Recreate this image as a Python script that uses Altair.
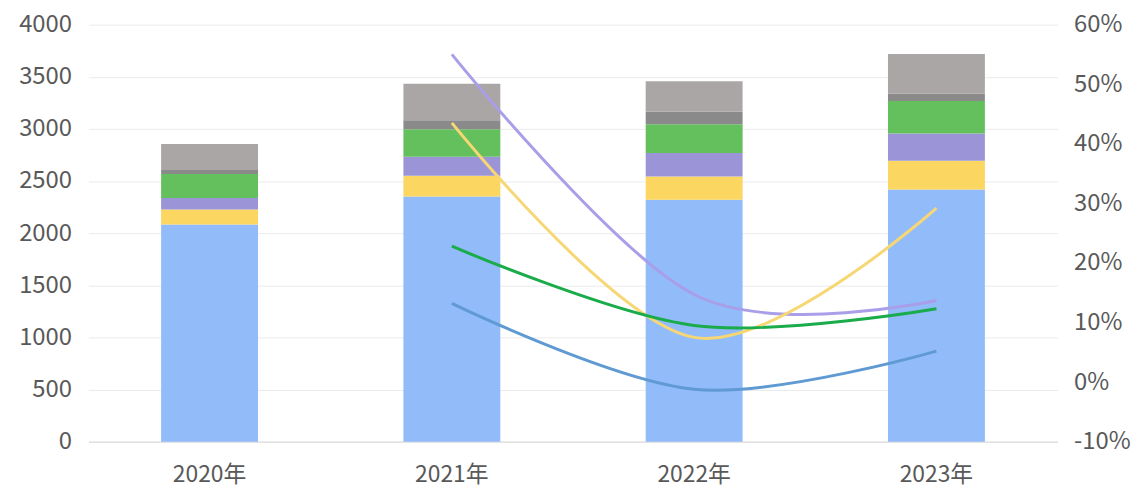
import altair as alt
import pandas as pd

years = ["2020年", "2021年", "2022年", "2023年"]

series_names = ["s1", "s2", "s3", "s4", "s5", "s6"]
seg_blue = [2083, 2352, 2321, 2419]
seg_yellow = [143, 197, 222, 276]
seg_purple = [110, 184, 226, 260]
seg_green = [232, 264, 276, 311]
seg_dark = [38, 86, 120, 70]
seg_light = [248, 349, 292, 381]
bar_colors = ["#92bbfa", "#fbd660", "#9b95d8", "#63c05c", "#8a8a8a", "#aaa6a6"]

line_years = ["2021年", "2022年", "2023年"]
line_purple = [0.55, 0.147, 0.137]
line_yellow = [0.435, 0.075, 0.292]
line_green = [0.228, 0.095, 0.123]
line_blue = [0.132, -0.012, 0.052]
line_colors = ["#a99ee8", "#f6d774", "#1aab4a", "#5f9ad3"]

left_ticks = [0, 500, 1000, 1500, 2000, 2500, 3000, 3500, 4000]
right_ticks = [-0.1, 0, 0.1, 0.2, 0.3, 0.4, 0.5, 0.6]

FONT = "Noto Sans CJK SC"
LABEL = "#595959"

rows = []
for i, (name, vals) in enumerate(zip(series_names, [seg_blue, seg_yellow, seg_purple, seg_green, seg_dark, seg_light])):
    for y, v in zip(years, vals):
        rows.append({"year": y, "series": name, "value": v, "ord": i})
bar_df = pd.DataFrame(rows)

x_enc = alt.X(
    "year:N", sort=years,
    scale=alt.Scale(domain=years, paddingInner=0.6, paddingOuter=0.3),
    axis=alt.Axis(title=None, labelAngle=0, labelFontSize=23, labelColor=LABEL, labelFont=FONT,
                  domainColor="#d9d9d9", domainWidth=1, ticks=False, labelPadding=22, grid=False),
)

bars = alt.Chart(bar_df).mark_bar().encode(
    x=x_enc,
    y=alt.Y("value:Q", stack="zero", scale=alt.Scale(domain=[0, 4000], nice=False),
            axis=alt.Axis(title=None, values=left_ticks, format="d", grid=True, gridColor="#ebebeb", domain=False,
                          ticks=False, labelPadding=17, labelFontSize=24, labelColor=LABEL, labelFont=FONT)),
    color=alt.Color("series:N", scale=alt.Scale(domain=series_names, range=bar_colors), legend=None),
    order=alt.Order("ord:Q"),
)

line_layers = []
for vals, col in zip([line_purple, line_yellow, line_green, line_blue], line_colors):
    df = pd.DataFrame({"year": line_years, "g": vals})
    line_layers.append(
        alt.Chart(df).mark_line(color=col, strokeWidth=3, interpolate="cardinal").encode(
            x=alt.X("year:N", sort=years),
            y=alt.Y("g:Q", scale=alt.Scale(domain=[-0.1, 0.6], nice=False),
                    axis=alt.Axis(title=None, orient="right", values=right_ticks,
                                  labelExpr="round(datum.value * 100) + '%'", grid=False,
                                  domain=False, ticks=False, labelPadding=16, labelFontSize=24,
                                  labelColor=LABEL, labelFont=FONT)),
        )
    )
lines = alt.layer(*line_layers)

chart = alt.layer(bars, lines).resolve_scale(y="independent").properties(
    width=976, height=420,
    autosize=alt.AutoSizeParams(type="none"),
    padding={"left": 81, "top": 15, "right": 82, "bottom": 46},
    background="white",
).configure_view(stroke=None)

chart.save("out.html", embed_options={"renderer": "svg", "actions": False})
